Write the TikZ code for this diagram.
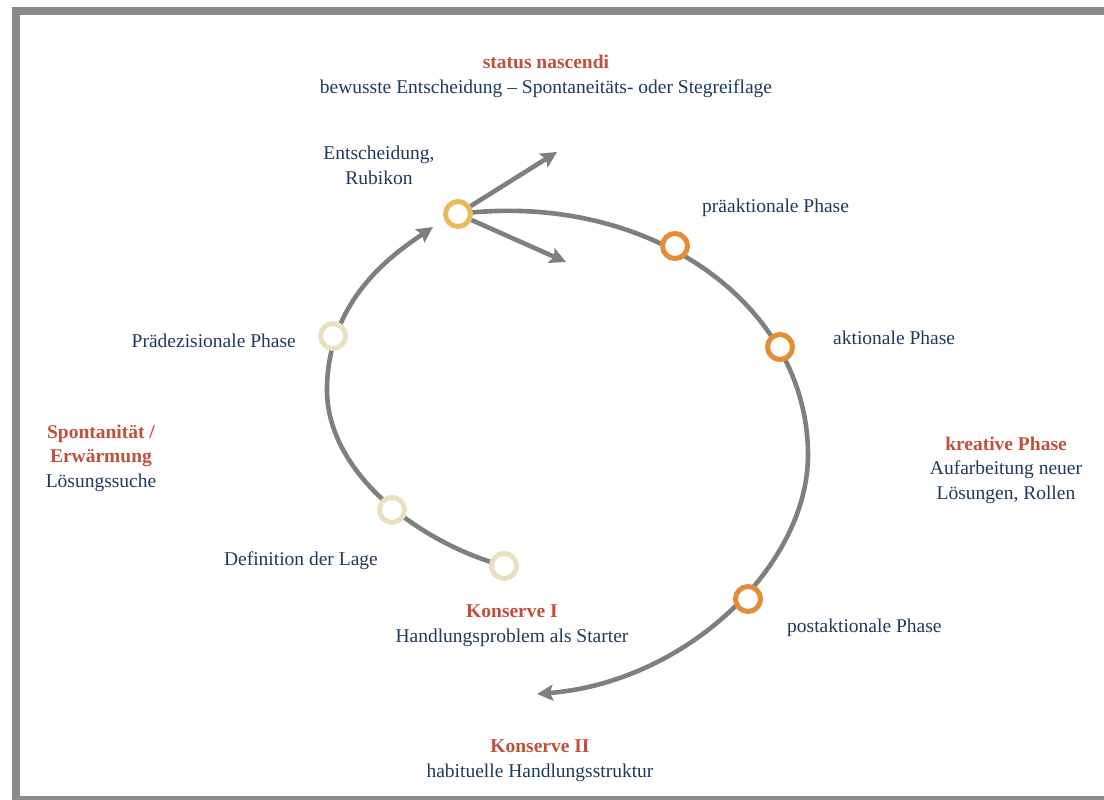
\documentclass[tikz,border=0pt]{standalone}
\usepackage{fontspec}
\setmainfont{Liberation Serif}
\usetikzlibrary{arrows.meta}
\definecolor{txtblue}{HTML}{1F3A5C}
\definecolor{txtred}{HTML}{C0503A}
\definecolor{linegray}{HTML}{7F7F7F}
\definecolor{framegray}{HTML}{8A8A8A}
\definecolor{ringyellow}{HTML}{E9B95B}
\definecolor{ringbeige}{HTML}{E9E0C0}
\definecolor{ringorange}{HTML}{E58D34}
\begin{document}
\begin{tikzpicture}[x=1pt,y=-1pt,
  lbl/.style={text=txtblue, font=\fontsize{19.5}{24.5}\selectfont, align=center, inner sep=0pt, anchor=base},
  ring/.style={circle, draw, line width=5pt, fill=white, minimum size=25pt, inner sep=0pt},
  flow/.style={draw=linegray, line width=4.6pt, -{Stealth[length=16pt,width=16pt,inset=3pt]}}
]
\useasboundingbox (0,0) rectangle (1104,800);
\clip (0,0) rectangle (1104,800);
% frame
\draw[framegray, line width=8pt] (16,11) rectangle (1130,799.5);

% positions of the rings
\coordinate (pk) at (504,566);
\coordinate (pd) at (392,510);
\coordinate (pp) at (333,336);
\coordinate (pe) at (458,214);
\coordinate (pa) at (675,246);
\coordinate (pb) at (780,347);
\coordinate (pc) at (748,599);
% turning points and free ends
\coordinate (lm) at (327,390);
\coordinate (rm) at (808,455);
\coordinate (tipL) at (433,227);
\coordinate (tipR) at (537,694);
\coordinate (tipUp) at (557,152);
\coordinate (tipDn) at (566,262);

% arcs
\draw[flow] (pk) .. controls (414,541) and (327,470) .. (lm)
                 .. controls (327,297) and (398,251) .. (tipL);
\draw[flow] (pe) .. controls (650,190) and (808,305) .. (rm)
                 .. controls (808,565) and (687,682) .. (tipR);

% rings
\node[ring, draw=ringbeige] (k1) at (pk) {};
\node[ring, draw=ringbeige] (def) at (pd) {};
\node[ring, draw=ringbeige] (pre) at (pp) {};
\node[ring, draw=ringyellow] (ent) at (pe) {};
\node[ring, draw=ringorange] (pra) at (pa) {};
\node[ring, draw=ringorange] (akt) at (pb) {};
\node[ring, draw=ringorange] (post) at (pc) {};

% branching arrows
\draw[flow] (ent) -- (tipUp);
\draw[flow] (ent) -- (tipDn);

% labels
\node[lbl] (title) at (546,93) {{\color{txtred}\bfseries status nascendi}\\bewusste Entscheidung – Spontaneitäts- oder Stegreiflage};
\node[lbl] (lent) at (379,184) {Entscheidung,\\Rubikon};
\node[lbl, anchor=base west] (lpra) at (702,212) {präaktionale Phase};
\node[lbl, anchor=base west] (lakt) at (833,344) {aktionale Phase};
\node[lbl] (lkre) at (1006,499) {{\color{txtred}\bfseries kreative Phase}\\Aufarbeitung neuer\\Lösungen, Rollen};
\node[lbl, anchor=base west] (lpost) at (787,632) {postaktionale Phase};
\node[lbl] (lk1) at (512,642) {{\color{txtred}\bfseries Konserve I}\\Handlungsproblem als Starter};
\node[lbl] (lk2) at (540,777) {{\color{txtred}\bfseries Konserve II}\\habituelle Handlungsstruktur};
\node[lbl, anchor=base east] (ldef) at (378,565) {Definition der Lage};
\node[lbl, anchor=base east] (lpre) at (296,347) {Prädezisionale Phase};
\node[lbl] (lspo) at (101,487) {{\color{txtred}\bfseries Spontanität /}\\{\color{txtred}\bfseries Erwärmung}\\Lösungssuche};
\end{tikzpicture}
\end{document}
